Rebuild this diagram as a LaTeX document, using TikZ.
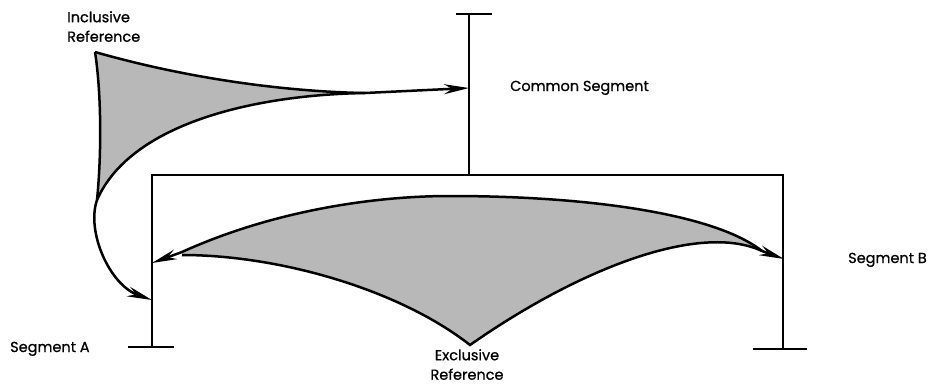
\documentclass[tikz,border=0pt]{standalone}
\usepackage{fontspec}
\setmainfont{Poppins}[FakeBold=0.8]
\usetikzlibrary{arrows.meta}
\begin{document}
\begin{tikzpicture}[x=1pt,y=-1pt,
  seg/.style={line width=2.5pt},
  edge/.style={line width=2.5pt},
  arr/.style={line width=2.5pt,-{Stealth[length=25pt,width=10pt]}},
  shade/.style={fill=black!28},
  lab/.style={font=\fontsize{14.5}{19.5}\selectfont,inner sep=0pt,align=center}]
\useasboundingbox (0,0) rectangle (929,383);
% segment structure
\coordinate (ctop) at (469,14);
\coordinate (ctl) at (456,14);
\coordinate (ctr) at (492,14);
\coordinate (cbot) at (469,175);
\coordinate (bl) at (152,175);
\coordinate (br) at (783,175);
\coordinate (abot) at (152,347);
\coordinate (acl) at (128,347);
\coordinate (acr) at (174,347);
\coordinate (bbot) at (783,349);
\coordinate (bcl) at (753,349);
\coordinate (bcr) at (807,349);
\draw[seg] (ctl) -- (ctr);
\draw[seg] (ctop) -- (cbot);
\draw[seg] (abot) -- (bl) -- (br) -- (bbot);
\draw[seg] (acl) -- (acr);
\draw[seg] (bcl) -- (bcr);
% labels
\node[lab,anchor=base west] (lcommon) at (510,91) {Common Segment};
\node[lab,anchor=base west] (lsegb) at (848,263) {Segment B};
\node[lab,anchor=base west] (lsega) at (10,352) {Segment A};
\node[lab,anchor=north] (lexcl) at (467,349) {Exclusive\\Reference};
\node[lab,anchor=north west,align=left] (lincl) at (67,11) {Inclusive\\Reference};
% inclusive reference
\coordinate (itop) at (95,52);
\coordinate (ibot) at (97,200);
\coordinate (ijoin) at (365,93);
\coordinate (itip) at (469,88);
\coordinate (atip) at (152,300);
\fill[shade] (itop) .. controls (200,82) and (300,92) .. (ijoin)
  .. controls (250,95) and (130,125) .. (ibot)
  .. controls (102,150) and (101,90) .. (itop);
\draw[edge] (itop) .. controls (200,82) and (300,92) .. (ijoin);
\draw[edge] (ibot) .. controls (130,125) and (250,95) .. (ijoin);
\draw[edge] (itop) .. controls (101,90) and (102,150) .. (ibot);
\draw[arr] (ijoin) -- (itip);
\draw[arr] (ibot) .. controls (86,232) and (110,285) .. (atip);
% exclusive reference
\coordinate (el) at (182,252);
\coordinate (elb) at (182,255);
\coordinate (etop) at (450,196);
\coordinate (er) at (762,251);
\coordinate (ebot) at (470,345);
\coordinate (eltip) at (152,263);
\coordinate (ertip) at (784,259);
\fill[shade] (el) .. controls (270,212) and (370,196) .. (etop)
  .. controls (590,196) and (715,214) .. (er)
  .. controls (700,222) and (580,268) .. (ebot)
  .. controls (400,290) and (280,255) .. (elb) -- cycle;
\draw[edge] (el) .. controls (270,212) and (370,196) .. (etop)
  .. controls (590,196) and (715,214) .. (er);
\draw[edge] (er) .. controls (700,222) and (580,268) .. (ebot)
  .. controls (400,290) and (280,255) .. (elb);
\draw[arr] (el) -- (eltip);
\draw[arr] (er) -- (ertip);
\end{tikzpicture}
\end{document}
